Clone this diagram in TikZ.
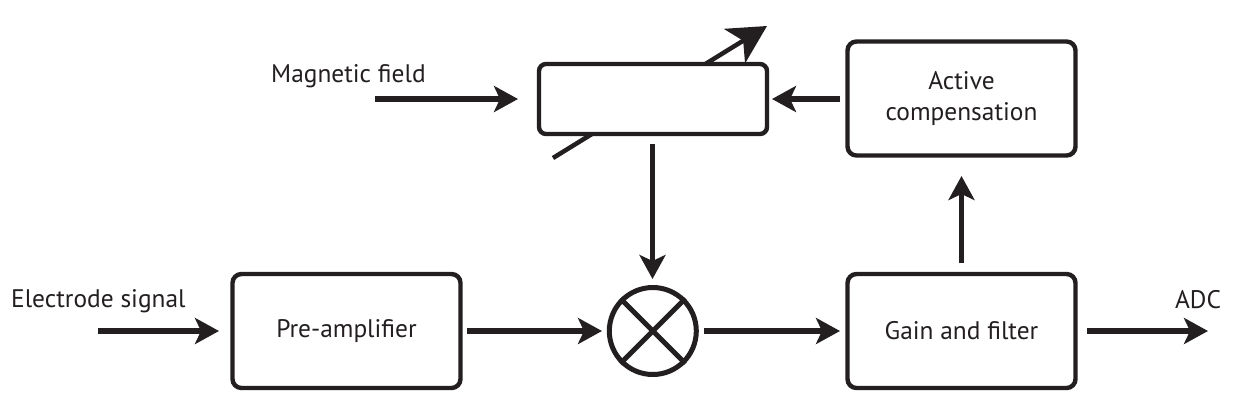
\documentclass[tikz,border=0pt]{standalone}
\usepackage{fontspec}
\setmainfont{PT Sans}
\usetikzlibrary{arrows.meta}
\definecolor{ink}{HTML}{231F20}
\tikzset{
 blockbox/.style={draw=ink,fill=white,line width=4.4pt,rounded corners=9pt,inner sep=0pt,align=center,font=\fontsize{25.4}{31}\selectfont,text=ink},
 lbl/.style={font=\fontsize{25.4}{31}\selectfont,text=ink,inner sep=0pt},
 conn/.style={draw=ink,line width=5.6pt,-{Stealth[length=24pt,width=26pt,inset=6pt]}},
 tune/.style={draw=ink,line width=4.5pt,-{Stealth[length=38pt,width=40pt,inset=10pt]}},
}
\begin{document}
\begin{tikzpicture}[x=1pt,y=-1pt]
\useasboundingbox (0,0) rectangle (1244,416);
\path[fill=white] (0,0) rectangle (1244,416);
\coordinate (vs) at (553,158); \coordinate (ve) at (767,26);
\draw[tune] (vs)--(ve);
\node[blockbox,minimum width=228pt,minimum height=114pt] (pre) at (346.5,331) {Pre-amplifier};
\node[blockbox,minimum width=228pt,minimum height=114pt] (gain) at (961.5,331) {Gain and filter};
\node[blockbox,minimum width=228pt,minimum height=114pt] (act) at (961.5,98.5) {\raisebox{-1pt}{Active}\\\raisebox{-1pt}{compensation}};
\node[blockbox,minimum width=228pt,minimum height=70pt,rounded corners=7pt] (var) at (653,99) {};
\node[circle,draw=ink,line width=5pt,minimum size=87pt,inner sep=0pt] (mix) at (652.8,331) {};
\draw[ink,line width=5pt] (mix.45)--(mix.225) (mix.135)--(mix.315);
\node[lbl,anchor=west] (mf) at (271,76) {Magnetic field};
\node[lbl,anchor=west] (es) at (11,301) {Electrode signal};
\node[lbl] (adc) at (1198,300) {ADC};
\coordinate (mfs) at (375,99); \coordinate (mfe) at (518,99);
\coordinate (ess) at (98,331); \coordinate (ese) at (219,331);
\coordinate (adcs) at (1087,331); \coordinate (adce) at (1208,331);
\coordinate (a1) at (467,331); \coordinate (a2) at (602,331);
\coordinate (b1) at (704,331); \coordinate (b2) at (840,331);
\coordinate (c1) at (652.5,144); \coordinate (c2) at (652.5,279);
\coordinate (d1) at (961.5,263); \coordinate (d2) at (961.5,176);
\coordinate (e1) at (840,99); \coordinate (e2) at (772,99);
\draw[conn] (mfs)--(mfe);
\draw[conn] (ess)--(ese);
\draw[conn] (adcs)--(adce);
\draw[conn] (a1)--(a2);
\draw[conn] (b1)--(b2);
\draw[conn] (c1)--(c2);
\draw[conn] (d1)--(d2);
\draw[conn] (e1)--(e2);
\end{tikzpicture}
\end{document}
